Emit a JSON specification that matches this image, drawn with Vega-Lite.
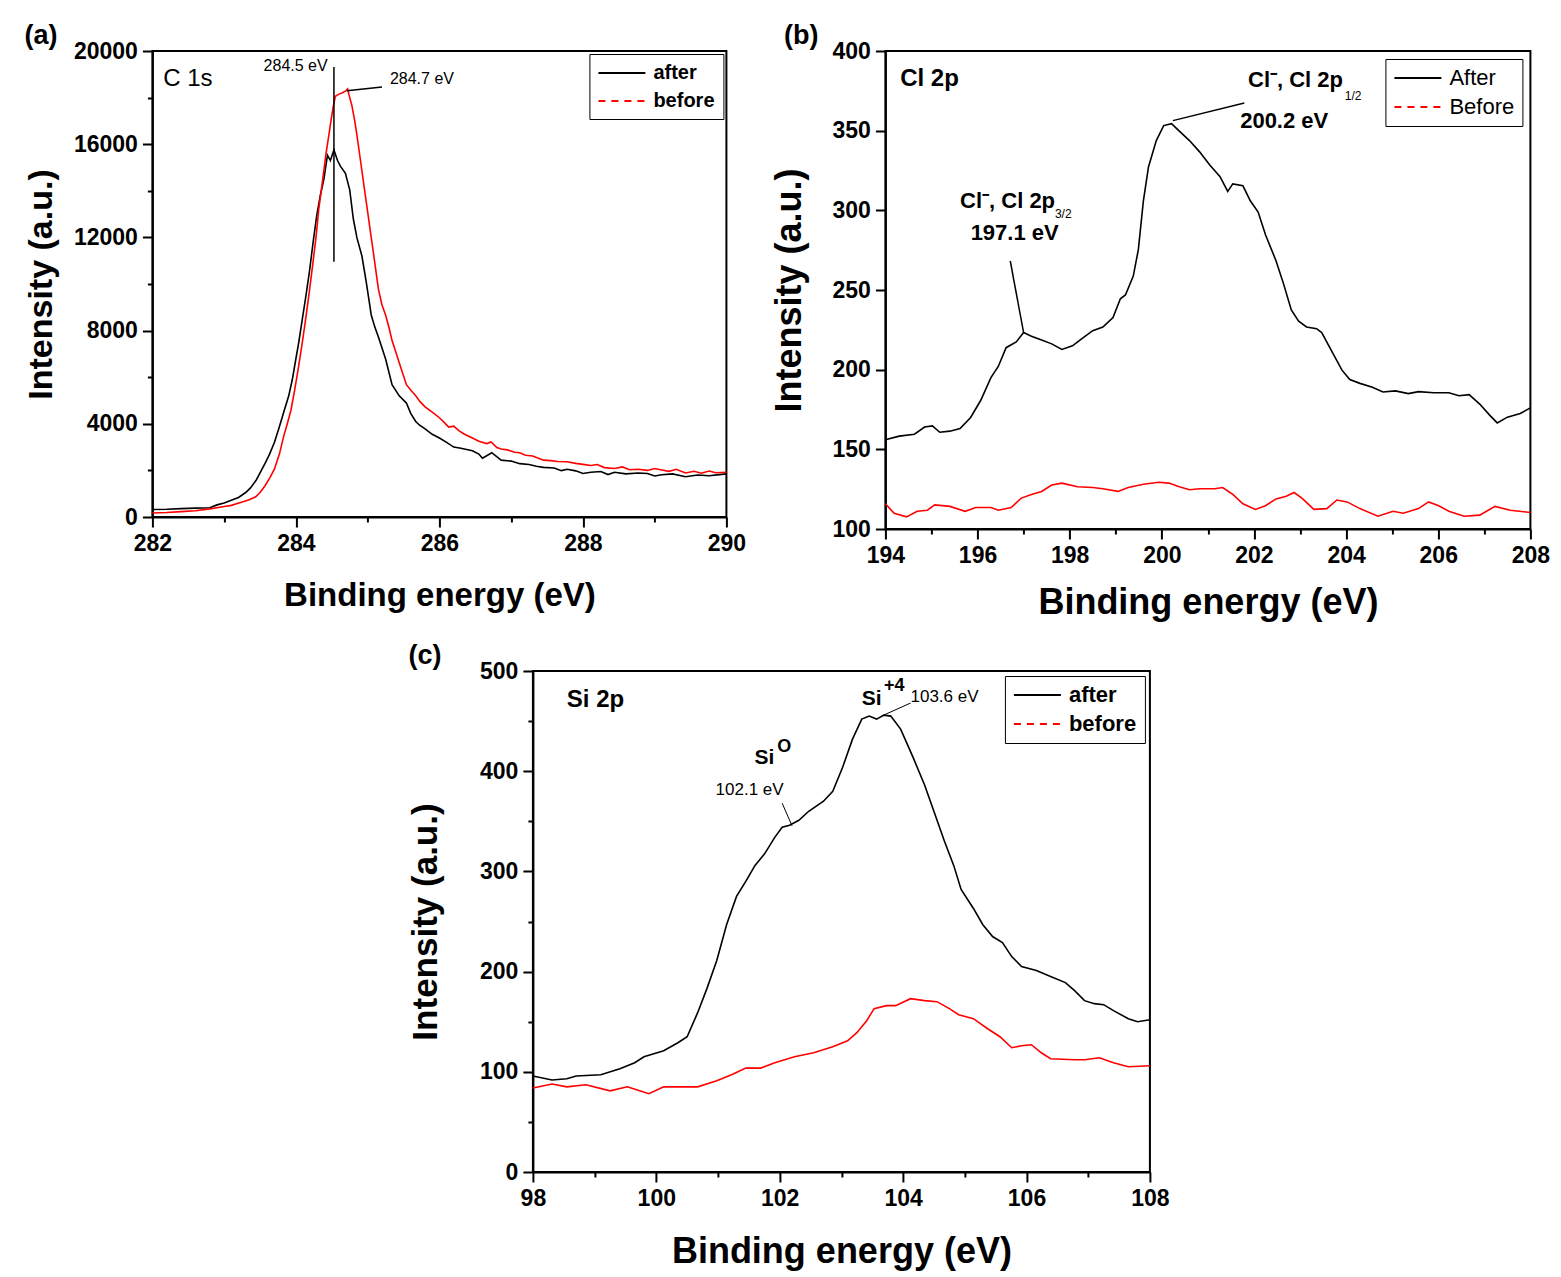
{
  "$schema": "https://vega.github.io/schema/vega-lite/v6.json",
  "background": "white",
  "padding": {"left": 23, "top": 21, "right": 5, "bottom": 5},
  "center": true,
  "spacing": 20,
  "resolve": {"scale": {"color": "independent"}, "legend": {"color": "independent"}},
  "config": {
    "view": {"stroke": "black", "strokeWidth": 2},
    "axis": {"domainColor": "black", "domainWidth": 2, "tickColor": "black", "tickWidth": 2, "labelFont": "Liberation Sans", "labelFontWeight": "bold", "labelFontSize": 23, "labelColor": "black", "labelPadding": 5, "labelFlush": false, "labelOverlap": false, "titleFont": "Liberation Sans", "titleFontWeight": "bold", "titleColor": "black", "grid": false},
    "title": {"font": "Liberation Sans", "fontSize": 27, "fontWeight": "bold", "color": "black", "anchor": "start", "frame": "bounds"},
    "legend": {"orient": "top-right", "strokeColor": "black", "fillColor": "white", "padding": 8, "symbolType": "M-1,0H3.7", "symbolStrokeWidth": 2, "symbolSize": 400, "labelOffset": 34, "labelFont": "Liberation Sans", "labelColor": "black", "rowPadding": 7},
    "text": {"font": "Liberation Sans", "color": "black", "align": "left", "baseline": "middle"}
  },
  "vconcat": [
    {
      "hconcat": [
        {
          "width": 574, "height": 466,
          "title": {"text": "(a)", "offset": -10},
          "layer": [
            {
              "data": {"values": [
                {"series":"after","energy":282.0,"intensity":320},{"series":"after","energy":282.2,"intensity":330},{"series":"after","energy":282.4,"intensity":360},{"series":"after","energy":282.6,"intensity":380},{"series":"after","energy":282.8,"intensity":400},{"series":"after","energy":282.9,"intensity":520},{"series":"after","energy":283.0,"intensity":600},{"series":"after","energy":283.1,"intensity":720},{"series":"after","energy":283.2,"intensity":840},{"series":"after","energy":283.3,"intensity":1050},{"series":"after","energy":283.37,"intensity":1260},{"series":"after","energy":283.45,"intensity":1600},{"series":"after","energy":283.5,"intensity":1890},{"series":"after","energy":283.57,"intensity":2300},{"series":"after","energy":283.63,"intensity":2680},{"series":"after","energy":283.7,"intensity":3200},{"series":"after","energy":283.76,"intensity":3780},{"series":"after","energy":283.83,"intensity":4500},{"series":"after","energy":283.9,"intensity":5200},{"series":"after","energy":283.95,"intensity":5900},{"series":"after","energy":283.99,"intensity":6620},{"series":"after","energy":284.04,"intensity":7500},{"series":"after","energy":284.09,"intensity":8500},{"series":"after","energy":284.14,"intensity":9500},{"series":"after","energy":284.19,"intensity":10560},{"series":"after","energy":284.24,"intensity":11800},{"series":"after","energy":284.29,"intensity":12930},{"series":"after","energy":284.34,"intensity":13800},{"series":"after","energy":284.39,"intensity":14500},{"series":"after","energy":284.44,"intensity":15530},{"series":"after","energy":284.48,"intensity":15300},{"series":"after","energy":284.53,"intensity":15750},{"series":"after","energy":284.58,"intensity":15300},{"series":"after","energy":284.62,"intensity":15060},{"series":"after","energy":284.69,"intensity":14750},{"series":"after","energy":284.75,"intensity":14040},{"series":"after","energy":284.8,"intensity":12800},{"series":"after","energy":284.85,"intensity":11990},{"series":"after","energy":284.92,"intensity":11200},{"series":"after","energy":284.98,"intensity":10090},{"series":"after","energy":285.05,"intensity":8670},{"series":"after","energy":285.1,"intensity":8150},{"series":"after","energy":285.15,"intensity":7730},{"series":"after","energy":285.25,"intensity":6780},{"series":"after","energy":285.34,"intensity":5680},{"series":"after","energy":285.44,"intensity":5200},{"series":"after","energy":285.54,"intensity":4890},{"series":"after","energy":285.6,"intensity":4450},{"series":"after","energy":285.67,"intensity":4100},{"series":"after","energy":285.72,"intensity":3950},{"series":"after","energy":285.8,"intensity":3780},{"series":"after","energy":285.9,"intensity":3550},{"series":"after","energy":286.0,"intensity":3390},{"series":"after","energy":286.1,"intensity":3200},{"series":"after","energy":286.2,"intensity":3000},{"series":"after","energy":286.3,"intensity":2950},{"series":"after","energy":286.46,"intensity":2840},{"series":"after","energy":286.55,"intensity":2700},{"series":"after","energy":286.6,"intensity":2520},{"series":"after","energy":286.73,"intensity":2760},{"series":"after","energy":286.86,"intensity":2440},{"series":"after","energy":287.0,"intensity":2400},{"series":"after","energy":287.12,"intensity":2290},{"series":"after","energy":287.25,"intensity":2250},{"series":"after","energy":287.35,"intensity":2180},{"series":"after","energy":287.45,"intensity":2130},{"series":"after","energy":287.6,"intensity":2100},{"series":"after","energy":287.7,"intensity":1990},{"series":"after","energy":287.78,"intensity":2050},{"series":"after","energy":287.9,"intensity":1980},{"series":"after","energy":288.0,"intensity":1870},{"series":"after","energy":288.11,"intensity":1920},{"series":"after","energy":288.25,"intensity":1950},{"series":"after","energy":288.35,"intensity":1820},{"series":"after","energy":288.44,"intensity":1920},{"series":"after","energy":288.6,"intensity":1850},{"series":"after","energy":288.77,"intensity":1890},{"series":"after","energy":288.9,"intensity":1870},{"series":"after","energy":289.0,"intensity":1760},{"series":"after","energy":289.1,"intensity":1810},{"series":"after","energy":289.25,"intensity":1850},{"series":"after","energy":289.43,"intensity":1730},{"series":"after","energy":289.6,"intensity":1800},{"series":"after","energy":289.76,"intensity":1770},{"series":"after","energy":289.9,"intensity":1820},{"series":"after","energy":290.0,"intensity":1850},
                {"series":"before","energy":282.0,"intensity":170},{"series":"before","energy":282.2,"intensity":190},{"series":"before","energy":282.4,"intensity":230},{"series":"before","energy":282.6,"intensity":270},{"series":"before","energy":282.8,"intensity":350},{"series":"before","energy":283.0,"intensity":450},{"series":"before","energy":283.1,"intensity":500},{"series":"before","energy":283.24,"intensity":630},{"series":"before","energy":283.35,"intensity":740},{"series":"before","energy":283.44,"intensity":870},{"series":"before","energy":283.5,"intensity":1050},{"series":"before","energy":283.57,"intensity":1340},{"series":"before","energy":283.64,"intensity":1700},{"series":"before","energy":283.7,"intensity":2050},{"series":"before","energy":283.77,"intensity":2700},{"series":"before","energy":283.83,"intensity":3470},{"series":"before","energy":283.88,"intensity":4000},{"series":"before","energy":283.93,"intensity":4570},{"series":"before","energy":283.98,"intensity":5400},{"series":"before","energy":284.03,"intensity":6310},{"series":"before","energy":284.08,"intensity":7300},{"series":"before","energy":284.13,"intensity":8360},{"series":"before","energy":284.18,"intensity":9500},{"series":"before","energy":284.23,"intensity":10720},{"series":"before","energy":284.28,"intensity":12000},{"series":"before","energy":284.32,"intensity":13250},{"series":"before","energy":284.37,"intensity":14400},{"series":"before","energy":284.42,"intensity":15610},{"series":"before","energy":284.46,"intensity":16400},{"series":"before","energy":284.49,"intensity":17030},{"series":"before","energy":284.52,"intensity":17600},{"series":"before","energy":284.55,"intensity":18060},{"series":"before","energy":284.6,"intensity":18150},{"series":"before","energy":284.65,"intensity":18210},{"series":"before","energy":284.7,"intensity":18300},{"series":"before","energy":284.72,"intensity":18370},{"series":"before","energy":284.75,"intensity":18000},{"series":"before","energy":284.78,"intensity":17660},{"series":"before","energy":284.82,"intensity":17000},{"series":"before","energy":284.85,"intensity":16400},{"series":"before","energy":284.9,"intensity":15300},{"series":"before","energy":284.95,"intensity":14190},{"series":"before","energy":285.0,"intensity":13100},{"series":"before","energy":285.05,"intensity":11990},{"series":"before","energy":285.1,"intensity":10900},{"series":"before","energy":285.15,"intensity":9780},{"series":"before","energy":285.2,"intensity":9100},{"series":"before","energy":285.25,"intensity":8670},{"series":"before","energy":285.3,"intensity":8100},{"series":"before","energy":285.34,"intensity":7570},{"series":"before","energy":285.39,"intensity":7100},{"series":"before","energy":285.44,"intensity":6620},{"series":"before","energy":285.49,"intensity":6150},{"series":"before","energy":285.54,"intensity":5680},{"series":"before","energy":285.6,"intensity":5450},{"series":"before","energy":285.67,"intensity":5200},{"series":"before","energy":285.73,"intensity":4950},{"series":"before","energy":285.8,"intensity":4730},{"series":"before","energy":285.9,"intensity":4500},{"series":"before","energy":286.0,"intensity":4260},{"series":"before","energy":286.07,"intensity":4050},{"series":"before","energy":286.13,"intensity":3860},{"series":"before","energy":286.2,"intensity":3900},{"series":"before","energy":286.27,"intensity":3710},{"series":"before","energy":286.35,"intensity":3550},{"series":"before","energy":286.46,"intensity":3390},{"series":"before","energy":286.55,"intensity":3250},{"series":"before","energy":286.66,"intensity":3150},{"series":"before","energy":286.72,"intensity":3220},{"series":"before","energy":286.8,"intensity":2980},{"series":"before","energy":286.86,"intensity":2920},{"series":"before","energy":286.95,"intensity":2880},{"series":"before","energy":287.05,"intensity":2780},{"series":"before","energy":287.12,"intensity":2760},{"series":"before","energy":287.2,"intensity":2650},{"series":"before","energy":287.3,"intensity":2620},{"series":"before","energy":287.45,"intensity":2440},{"series":"before","energy":287.55,"intensity":2420},{"series":"before","energy":287.65,"intensity":2380},{"series":"before","energy":287.78,"intensity":2370},{"series":"before","energy":287.9,"intensity":2300},{"series":"before","energy":288.0,"intensity":2260},{"series":"before","energy":288.11,"intensity":2210},{"series":"before","energy":288.2,"intensity":2250},{"series":"before","energy":288.3,"intensity":2120},{"series":"before","energy":288.44,"intensity":2080},{"series":"before","energy":288.55,"intensity":2150},{"series":"before","energy":288.65,"intensity":2030},{"series":"before","energy":288.77,"intensity":2050},{"series":"before","energy":288.9,"intensity":2000},{"series":"before","energy":289.0,"intensity":2080},{"series":"before","energy":289.1,"intensity":2020},{"series":"before","energy":289.2,"intensity":1960},{"series":"before","energy":289.3,"intensity":2050},{"series":"before","energy":289.43,"intensity":1890},{"series":"before","energy":289.55,"intensity":1960},{"series":"before","energy":289.65,"intensity":1880},{"series":"before","energy":289.76,"intensity":1970},{"series":"before","energy":289.85,"intensity":1900},{"series":"before","energy":290.0,"intensity":1920}
              ]},
              "mark": {"type": "line", "strokeWidth": 1.6},
              "encoding": {
                "x": {"field": "energy", "type": "quantitative", "scale": {"domain": [282, 290], "nice": false, "zero": false},
                  "axis": {"title": "Binding energy (eV)", "titleFontSize": 33, "titlePadding": 24, "values": [282,283,284,285,286,287,288,289,290], "format": "d", "labelExpr": "datum.value % 2 === 0 ? datum.label : ''", "tickSize": {"condition": {"test": "datum.value % 2 !== 0", "value": 5}, "value": 10}}},
                "y": {"field": "intensity", "type": "quantitative", "scale": {"domain": [0, 20000], "nice": false},
                  "axis": {"title": "Intensity (a.u.)", "titleFontSize": 34, "titlePadding": 15, "values": [0,2000,4000,6000,8000,10000,12000,14000,16000,18000,20000], "format": "d", "labelExpr": "datum.value % 4000 === 0 ? datum.label : ''", "tickSize": {"condition": {"test": "datum.value % 4000 !== 0", "value": 5}, "value": 10}}},
                "color": {"field": "series", "type": "nominal", "scale": {"domain": ["after", "before"], "range": ["#000000", "#ff0000"]},
                  "legend": {"title": null, "offset": 3, "labelFontSize": 20, "labelFontWeight": "bold", "encode": {"symbols": {"update": {"strokeDash": [{"test": "datum.value === 'before'", "value": [7, 6]}, {"value": [1, 0]}]}}}}}
              }
            },
            {
              "data": {"values": [{"energy": 284.53, "intensity": 10960, "energy2": 284.53, "intensity2": 19318}, {"energy": 284.71, "intensity": 18293, "energy2": 285.2, "intensity2": 18451}]},
              "mark": {"type": "rule", "color": "black", "strokeWidth": 1.5},
              "encoding": {"x": {"field": "energy", "type": "quantitative"}, "y": {"field": "intensity", "type": "quantitative"}, "x2": {"field": "energy2"}, "y2": {"field": "intensity2"}}
            },
            {
              "data": {"values": [{"energy": 282.15, "intensity": 18814, "label": "C 1s"}]},
              "mark": {"type": "text", "fontSize": 24},
              "encoding": {"x": {"field": "energy", "type": "quantitative"}, "y": {"field": "intensity", "type": "quantitative"}, "text": {"field": "label"}}
            },
            {
              "data": {"values": [{"energy": 283.55, "intensity": 19366, "label": "284.5 eV"}, {"energy": 285.31, "intensity": 18814, "label": "284.7 eV"}]},
              "mark": {"type": "text", "fontSize": 16},
              "encoding": {"x": {"field": "energy", "type": "quantitative"}, "y": {"field": "intensity", "type": "quantitative"}, "text": {"field": "label"}}
            }
          ]
        },
        {
          "width": 645, "height": 478,
          "title": {"text": "(b)", "offset": -10, "dx": 13},
          "layer": [
            {
              "data": {"values": [
                {"series":"After","energy":194.0,"intensity":156},{"series":"After","energy":194.3,"intensity":158.3},{"series":"After","energy":194.63,"intensity":159.5},{"series":"After","energy":194.85,"intensity":164},{"series":"After","energy":195.02,"intensity":164.7},{"series":"After","energy":195.18,"intensity":160.7},{"series":"After","energy":195.4,"intensity":161.4},{"series":"After","energy":195.62,"intensity":163},{"series":"After","energy":195.85,"intensity":170},{"series":"After","energy":196.07,"intensity":180.8},{"series":"After","energy":196.29,"intensity":195},{"series":"After","energy":196.45,"intensity":202},{"series":"After","energy":196.62,"intensity":213.8},{"series":"After","energy":196.84,"intensity":217.4},{"series":"After","energy":197.0,"intensity":223.3},{"series":"After","energy":197.17,"intensity":221},{"series":"After","energy":197.39,"intensity":218.6},{"series":"After","energy":197.61,"intensity":216.2},{"series":"After","energy":197.83,"intensity":212.7},{"series":"After","energy":198.06,"intensity":215},{"series":"After","energy":198.28,"intensity":219.8},{"series":"After","energy":198.5,"intensity":224.5},{"series":"After","energy":198.72,"intensity":226.8},{"series":"After","energy":198.94,"intensity":232.7},{"series":"After","energy":199.1,"intensity":244.5},{"series":"After","energy":199.21,"intensity":246.9},{"series":"After","energy":199.38,"intensity":258.7},{"series":"After","energy":199.49,"intensity":275.3},{"series":"After","energy":199.6,"intensity":306},{"series":"After","energy":199.71,"intensity":327.2},{"series":"After","energy":199.88,"intensity":343.8},{"series":"After","energy":200.04,"intensity":353.2},{"series":"After","energy":200.21,"intensity":354.4},{"series":"After","energy":200.38,"intensity":349.7},{"series":"After","energy":200.6,"intensity":343.8},{"series":"After","energy":200.82,"intensity":336.7},{"series":"After","energy":201.04,"intensity":328.4},{"series":"After","energy":201.26,"intensity":321.3},{"series":"After","energy":201.43,"intensity":311.9},{"series":"After","energy":201.54,"intensity":316.6},{"series":"After","energy":201.76,"intensity":315.4},{"series":"After","energy":201.92,"intensity":306},{"series":"After","energy":202.09,"intensity":298.9},{"series":"After","energy":202.25,"intensity":284.7},{"series":"After","energy":202.48,"intensity":268.2},{"series":"After","energy":202.64,"intensity":254},{"series":"After","energy":202.81,"intensity":237.5},{"series":"After","energy":202.97,"intensity":230.4},{"series":"After","energy":203.14,"intensity":226.8},{"series":"After","energy":203.36,"intensity":225.7},{"series":"After","energy":203.47,"intensity":223.3},{"series":"After","energy":203.69,"intensity":211.5},{"series":"After","energy":203.91,"intensity":199.7},{"series":"After","energy":204.08,"intensity":193.8},{"series":"After","energy":204.3,"intensity":191.4},{"series":"After","energy":204.57,"intensity":189},{"series":"After","energy":204.8,"intensity":186},{"series":"After","energy":205.07,"intensity":186.7},{"series":"After","energy":205.35,"intensity":185},{"series":"After","energy":205.57,"intensity":186.2},{"series":"After","energy":205.9,"intensity":185.5},{"series":"After","energy":206.23,"intensity":185.5},{"series":"After","energy":206.45,"intensity":183.6},{"series":"After","energy":206.67,"intensity":184.3},{"series":"After","energy":206.9,"intensity":178.4},{"series":"After","energy":207.12,"intensity":171.3},{"series":"After","energy":207.28,"intensity":166.6},{"series":"After","energy":207.5,"intensity":170.2},{"series":"After","energy":207.78,"intensity":172.5},{"series":"After","energy":208.0,"intensity":176},
                {"series":"Before","energy":194.0,"intensity":115.8},{"series":"Before","energy":194.19,"intensity":109.9},{"series":"Before","energy":194.46,"intensity":107.6},{"series":"Before","energy":194.69,"intensity":111.1},{"series":"Before","energy":194.91,"intensity":111.8},{"series":"Before","energy":195.07,"intensity":115.1},{"series":"Before","energy":195.4,"intensity":114.2},{"series":"Before","energy":195.73,"intensity":111.1},{"series":"Before","energy":195.96,"intensity":113.5},{"series":"Before","energy":196.29,"intensity":113.5},{"series":"Before","energy":196.45,"intensity":111.8},{"series":"Before","energy":196.73,"intensity":113.5},{"series":"Before","energy":196.95,"intensity":119.4},{"series":"Before","energy":197.17,"intensity":121.7},{"series":"Before","energy":197.39,"intensity":123.6},{"series":"Before","energy":197.61,"intensity":127.6},{"series":"Before","energy":197.83,"intensity":128.8},{"series":"Before","energy":198.17,"intensity":126.5},{"series":"Before","energy":198.5,"intensity":126},{"series":"Before","energy":198.72,"intensity":125.3},{"series":"Before","energy":199.05,"intensity":123.6},{"series":"Before","energy":199.27,"intensity":126},{"series":"Before","energy":199.6,"intensity":128.1},{"series":"Before","energy":199.93,"intensity":129.3},{"series":"Before","energy":200.15,"intensity":128.8},{"series":"Before","energy":200.38,"intensity":126.5},{"series":"Before","energy":200.6,"intensity":124.6},{"series":"Before","energy":200.82,"intensity":125.3},{"series":"Before","energy":201.15,"intensity":125.3},{"series":"Before","energy":201.32,"intensity":126},{"series":"Before","energy":201.54,"intensity":121.7},{"series":"Before","energy":201.76,"intensity":115.8},{"series":"Before","energy":202.03,"intensity":112.3},{"series":"Before","energy":202.25,"intensity":114.6},{"series":"Before","energy":202.48,"intensity":118.9},{"series":"Before","energy":202.7,"intensity":120.5},{"series":"Before","energy":202.87,"intensity":122.9},{"series":"Before","energy":203.04,"intensity":119.4},{"series":"Before","energy":203.3,"intensity":112.3},{"series":"Before","energy":203.58,"intensity":112.8},{"series":"Before","energy":203.8,"intensity":118.2},{"series":"Before","energy":204.02,"intensity":117},{"series":"Before","energy":204.3,"intensity":112.8},{"series":"Before","energy":204.69,"intensity":108},{"series":"Before","energy":205.02,"intensity":111.1},{"series":"Before","energy":205.24,"intensity":109.9},{"series":"Before","energy":205.57,"intensity":112.8},{"series":"Before","energy":205.79,"intensity":117},{"series":"Before","energy":206.01,"intensity":114.6},{"series":"Before","energy":206.23,"intensity":111.1},{"series":"Before","energy":206.56,"intensity":108},{"series":"Before","energy":206.9,"intensity":108.7},{"series":"Before","energy":207.23,"intensity":114.2},{"series":"Before","energy":207.56,"intensity":111.8},{"series":"Before","energy":208.0,"intensity":110.4}
              ]},
              "mark": {"type": "line", "strokeWidth": 1.6},
              "encoding": {
                "x": {"field": "energy", "type": "quantitative", "scale": {"domain": [194, 208], "nice": false, "zero": false},
                  "axis": {"title": "Binding energy (eV)", "titleFontSize": 36, "titlePadding": 18, "values": [194,195,196,197,198,199,200,201,202,203,204,205,206,207,208], "format": "d", "labelExpr": "datum.value % 2 === 0 ? datum.label : ''", "tickSize": {"condition": {"test": "datum.value % 2 !== 0", "value": 5}, "value": 10}}},
                "y": {"field": "intensity", "type": "quantitative", "scale": {"domain": [100, 400], "nice": false, "zero": false},
                  "axis": {"title": "Intensity (a.u.)", "titleFontSize": 36, "titlePadding": 24, "values": [100,125,150,175,200,225,250,275,300,325,350,375,400], "format": "d", "labelExpr": "datum.value % 50 === 0 ? datum.label : ''", "tickSize": {"condition": {"test": "datum.value % 50 !== 0", "value": 5}, "value": 10}}},
                "color": {"field": "series", "type": "nominal", "scale": {"domain": ["After", "Before"], "range": ["#000000", "#ff0000"]},
                  "legend": {"title": null, "offset": 8, "labelFontSize": 22, "labelFontWeight": "normal", "encode": {"symbols": {"update": {"strokeDash": [{"test": "datum.value === 'Before'", "value": [7, 6]}, {"value": [1, 0]}]}}}}}
              }
            },
            {
              "data": {"values": [{"energy": 200.24, "intensity": 356.3, "energy2": 201.79, "intensity2": 367.4}, {"energy": 196.71, "intensity": 268.2, "energy2": 197.0, "intensity2": 223.3}]},
              "mark": {"type": "rule", "color": "black", "strokeWidth": 1.5},
              "encoding": {"x": {"field": "energy", "type": "quantitative"}, "y": {"field": "intensity", "type": "quantitative"}, "x2": {"field": "energy2"}, "y2": {"field": "intensity2"}}
            },
            {
              "data": {"values": [{"energy": 194.32, "intensity": 382.7, "label": "Cl 2p"}]},
              "mark": {"type": "text", "fontSize": 24, "fontWeight": "bold"},
              "encoding": {"x": {"field": "energy", "type": "quantitative"}, "y": {"field": "intensity", "type": "quantitative"}, "text": {"field": "label"}}
            },
            {
              "data": {"values": [{"energy": 201.87, "intensity": 381.6, "label": "Cl⁻, Cl 2p"}, {"energy": 195.62, "intensity": 306, "label": "Cl⁻, Cl 2p"}, {"energy": 201.7, "intensity": 356, "label": "200.2 eV"}, {"energy": 195.85, "intensity": 285.7, "label": "197.1 eV"}]},
              "mark": {"type": "text", "fontSize": 22, "fontWeight": "bold"},
              "encoding": {"x": {"field": "energy", "type": "quantitative"}, "y": {"field": "intensity", "type": "quantitative"}, "text": {"field": "label"}}
            },
            {
              "data": {"values": [{"energy": 203.97, "intensity": 372, "label": "1/2"}, {"energy": 197.68, "intensity": 297.6, "label": "3/2"}]},
              "mark": {"type": "text", "fontSize": 12},
              "encoding": {"x": {"field": "energy", "type": "quantitative"}, "y": {"field": "intensity", "type": "quantitative"}, "text": {"field": "label"}}
            }
          ]
        }
      ],
      "spacing": 159,
      "bounds": "flush",
      "resolve": {"scale": {"color": "independent"}, "legend": {"color": "independent"}}
    },
    {
      "width": 617, "height": 501,
      "title": {"text": "(c)", "offset": -10},
      "layer": [
        {
          "data": {"values": [
            {"series":"after","energy":98.0,"intensity":95.8},{"series":"after","energy":98.31,"intensity":91.8},{"series":"after","energy":98.55,"intensity":93},{"series":"after","energy":98.7,"intensity":95.8},{"series":"after","energy":99.1,"intensity":97},{"series":"after","energy":99.41,"intensity":103},{"series":"after","energy":99.65,"intensity":109},{"series":"after","energy":99.8,"intensity":115},{"series":"after","energy":99.96,"intensity":118},{"series":"after","energy":100.12,"intensity":121},{"series":"after","energy":100.35,"intensity":129},{"series":"after","energy":100.5,"intensity":135},{"series":"after","energy":100.67,"intensity":159},{"series":"after","energy":100.82,"intensity":183},{"series":"after","energy":100.98,"intensity":211},{"series":"after","energy":101.14,"intensity":247},{"series":"after","energy":101.3,"intensity":275},{"series":"after","energy":101.45,"intensity":290},{"series":"after","energy":101.6,"intensity":306},{"series":"after","energy":101.76,"intensity":318},{"series":"after","energy":101.92,"intensity":334},{"series":"after","energy":102.04,"intensity":344},{"series":"after","energy":102.16,"intensity":346},{"series":"after","energy":102.31,"intensity":351},{"series":"after","energy":102.47,"intensity":360},{"series":"after","energy":102.71,"intensity":370},{"series":"after","energy":102.86,"intensity":380},{"series":"after","energy":103.02,"intensity":404},{"series":"after","energy":103.18,"intensity":432},{"series":"after","energy":103.33,"intensity":452},{"series":"after","energy":103.45,"intensity":455},{"series":"after","energy":103.57,"intensity":452},{"series":"after","energy":103.69,"intensity":456},{"series":"after","energy":103.8,"intensity":455},{"series":"after","energy":103.96,"intensity":442},{"series":"after","energy":104.16,"intensity":414},{"series":"after","energy":104.35,"intensity":386},{"series":"after","energy":104.51,"intensity":358},{"series":"after","energy":104.67,"intensity":330},{"series":"after","energy":104.82,"intensity":306},{"series":"after","energy":104.94,"intensity":282},{"series":"after","energy":105.14,"intensity":263},{"series":"after","energy":105.29,"intensity":247},{"series":"after","energy":105.45,"intensity":235},{"series":"after","energy":105.61,"intensity":229},{"series":"after","energy":105.76,"intensity":215},{"series":"after","energy":105.92,"intensity":205},{"series":"after","energy":106.16,"intensity":201},{"series":"after","energy":106.39,"intensity":195},{"series":"after","energy":106.63,"intensity":189},{"series":"after","energy":106.78,"intensity":181},{"series":"after","energy":106.94,"intensity":171},{"series":"after","energy":107.1,"intensity":168},{"series":"after","energy":107.25,"intensity":167},{"series":"after","energy":107.41,"intensity":161},{"series":"after","energy":107.65,"intensity":153},{"series":"after","energy":107.8,"intensity":150},{"series":"after","energy":108.0,"intensity":152},
            {"series":"before","energy":98.0,"intensity":83.8},{"series":"before","energy":98.31,"intensity":87.8},{"series":"before","energy":98.55,"intensity":85},{"series":"before","energy":98.86,"intensity":87},{"series":"before","energy":99.25,"intensity":81},{"series":"before","energy":99.53,"intensity":85},{"series":"before","energy":99.73,"intensity":81},{"series":"before","energy":99.88,"intensity":78.2},{"series":"before","energy":100.12,"intensity":85},{"series":"before","energy":100.67,"intensity":85},{"series":"before","energy":100.98,"intensity":91},{"series":"before","energy":101.22,"intensity":97},{"series":"before","energy":101.45,"intensity":103.7},{"series":"before","energy":101.69,"intensity":103.7},{"series":"before","energy":101.92,"intensity":109},{"series":"before","energy":102.24,"intensity":115},{"series":"before","energy":102.55,"intensity":119},{"series":"before","energy":102.86,"intensity":125},{"series":"before","energy":103.1,"intensity":131},{"series":"before","energy":103.25,"intensity":139},{"series":"before","energy":103.41,"intensity":151},{"series":"before","energy":103.53,"intensity":163},{"series":"before","energy":103.73,"intensity":166},{"series":"before","energy":103.88,"intensity":166},{"series":"before","energy":104.12,"intensity":173},{"series":"before","energy":104.35,"intensity":171},{"series":"before","energy":104.55,"intensity":170},{"series":"before","energy":104.75,"intensity":163},{"series":"before","energy":104.9,"intensity":157},{"series":"before","energy":105.14,"intensity":153},{"series":"before","energy":105.37,"intensity":143},{"series":"before","energy":105.57,"intensity":135},{"series":"before","energy":105.76,"intensity":124},{"series":"before","energy":105.92,"intensity":126},{"series":"before","energy":106.08,"intensity":127},{"series":"before","energy":106.24,"intensity":119},{"series":"before","energy":106.39,"intensity":113},{"series":"before","energy":106.78,"intensity":112},{"series":"before","energy":106.94,"intensity":112},{"series":"before","energy":107.18,"intensity":114},{"series":"before","energy":107.41,"intensity":109},{"series":"before","energy":107.65,"intensity":105},{"series":"before","energy":108.0,"intensity":106}
          ]},
          "mark": {"type": "line", "strokeWidth": 1.6},
          "encoding": {
            "x": {"field": "energy", "type": "quantitative", "scale": {"domain": [98, 108], "nice": false, "zero": false},
              "axis": {"title": "Binding energy (eV)", "titleFontSize": 36, "titlePadding": 24, "values": [98,99,100,101,102,103,104,105,106,107,108], "format": "d", "labelExpr": "datum.value % 2 === 0 ? datum.label : ''", "tickSize": {"condition": {"test": "datum.value % 2 !== 0", "value": 5}, "value": 10}}},
            "y": {"field": "intensity", "type": "quantitative", "scale": {"domain": [0, 500], "nice": false},
              "axis": {"title": "Intensity (a.u.)", "titleFontSize": 35, "titlePadding": 36, "values": [0,50,100,150,200,250,300,350,400,450,500], "format": "d", "labelExpr": "datum.value % 100 === 0 ? datum.label : ''", "tickSize": {"condition": {"test": "datum.value % 100 !== 0", "value": 5}, "value": 10}}},
            "color": {"field": "series", "type": "nominal", "scale": {"domain": ["after", "before"], "range": ["#000000", "#ff0000"]},
              "legend": {"title": null, "offset": 5, "labelFontSize": 22, "labelFontWeight": "bold", "encode": {"symbols": {"update": {"strokeDash": [{"test": "datum.value === 'before'", "value": [7, 6]}, {"value": [1, 0]}]}}}}}
          }
        },
        {
          "data": {"values": [{"energy": 102.04, "intensity": 368, "energy2": 102.2, "intensity2": 345.5}, {"energy": 103.65, "intensity": 455, "energy2": 104.12, "intensity2": 468}]},
          "mark": {"type": "rule", "color": "black", "strokeWidth": 1},
          "encoding": {"x": {"field": "energy", "type": "quantitative"}, "y": {"field": "intensity", "type": "quantitative"}, "x2": {"field": "energy2"}, "y2": {"field": "intensity2"}}
        },
        {
          "data": {"values": [{"energy": 98.55, "intensity": 471, "label": "Si 2p"}]},
          "mark": {"type": "text", "fontSize": 24, "fontWeight": "bold"},
          "encoding": {"x": {"field": "energy", "type": "quantitative"}, "y": {"field": "intensity", "type": "quantitative"}, "text": {"field": "label"}}
        },
        {
          "data": {"values": [{"energy": 101.59, "intensity": 413, "label": "Si"}, {"energy": 103.33, "intensity": 472, "label": "Si"}]},
          "mark": {"type": "text", "fontSize": 21, "fontWeight": "bold"},
          "encoding": {"x": {"field": "energy", "type": "quantitative"}, "y": {"field": "intensity", "type": "quantitative"}, "text": {"field": "label"}}
        },
        {
          "data": {"values": [{"energy": 101.96, "intensity": 424, "label": "O"}, {"energy": 103.69, "intensity": 485, "label": "+4"}]},
          "mark": {"type": "text", "fontSize": 18, "fontWeight": "bold"},
          "encoding": {"x": {"field": "energy", "type": "quantitative"}, "y": {"field": "intensity", "type": "quantitative"}, "text": {"field": "label"}}
        },
        {
          "data": {"values": [{"energy": 100.96, "intensity": 381, "label": "102.1 eV"}, {"energy": 104.12, "intensity": 474, "label": "103.6 eV"}]},
          "mark": {"type": "text", "fontSize": 17},
          "encoding": {"x": {"field": "energy", "type": "quantitative"}, "y": {"field": "intensity", "type": "quantitative"}, "text": {"field": "label"}}
        }
      ]
    }
  ]
}
